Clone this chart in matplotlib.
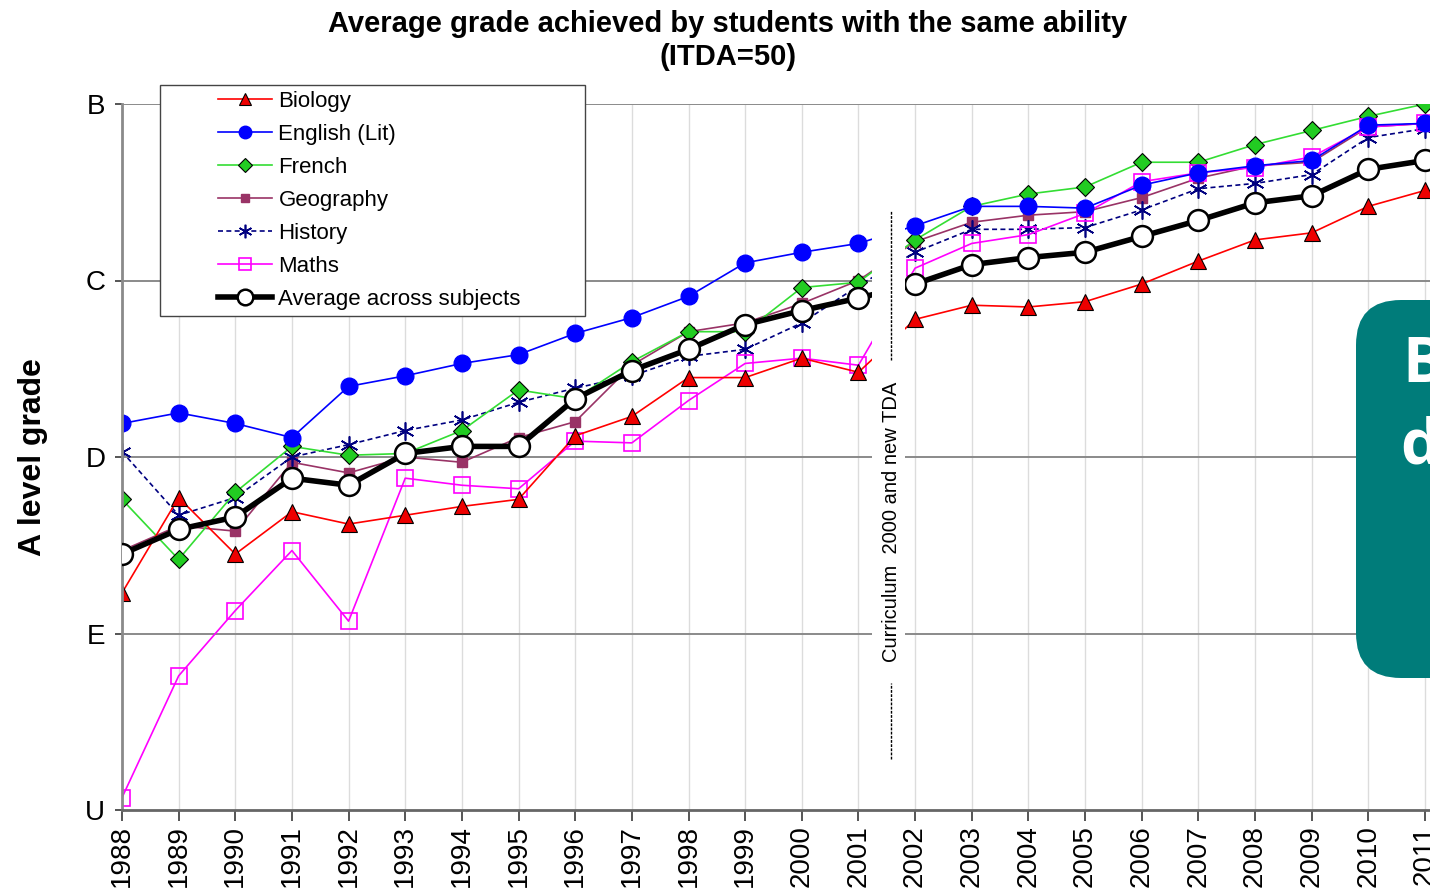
import matplotlib
matplotlib.use("Agg")
import matplotlib.pyplot as plt
import numpy as np
from matplotlib.patches import Rectangle, FancyBboxPatch

plt.rcParams['font.family'] = ['Liberation Sans', 'DejaVu Sans']

# grades: U=0, E=1, D=2, C=3, B=4
years = list(range(1988, 2012))
grade_labels = ['U', 'E', 'D', 'C', 'B']

biology = [1.23, 1.77, 1.45, 1.69, 1.62, 1.67, 1.72, 1.76, 2.12, 2.23, 2.45, 2.45,
           2.56, 2.48, 2.78, 2.86, 2.85, 2.88, 2.98, 3.11, 3.23, 3.27, 3.42, 3.51]
english = [2.19, 2.25, 2.19, 2.11, 2.40, 2.46, 2.53, 2.58, 2.70, 2.79, 2.91, 3.10,
           3.16, 3.21, 3.31, 3.42, 3.42, 3.41, 3.54, 3.61, 3.65, 3.68, 3.88, 3.89]
french = [1.76, 1.42, 1.80, 2.06, 2.01, 2.02, 2.15, 2.38, 2.33, 2.54, 2.71, 2.71,
          2.96, 2.99, 3.23, 3.42, 3.49, 3.53, 3.67, 3.67, 3.77, 3.85, 3.93, 4.00]
geography = [1.47, 1.61, 1.58, 1.97, 1.91, 2.00, 1.97, 2.11, 2.20, 2.52, 2.71, 2.76,
             2.87, 3.00, 3.22, 3.33, 3.37, 3.39, 3.47, 3.58, 3.65, 3.67, 3.87, 3.89]
history = [2.03, 1.67, 1.77, 2.00, 2.07, 2.15, 2.21, 2.31, 2.39, 2.46, 2.57, 2.61,
           2.76, 2.97, 3.16, 3.29, 3.29, 3.30, 3.40, 3.52, 3.55, 3.60, 3.81, 3.86]
maths = [0.07, 0.76, 1.13, 1.47, 1.07, 1.88, 1.84, 1.82, 2.09, 2.08, 2.32, 2.53,
         2.56, 2.52, 3.07, 3.21, 3.26, 3.38, 3.56, 3.61, 3.64, 3.70, 3.87, 3.89]
average = [1.45, 1.59, 1.66, 1.88, 1.84, 2.02, 2.06, 2.06, 2.33, 2.49, 2.61, 2.75,
           2.83, 2.90, 2.98, 3.09, 3.13, 3.16, 3.25, 3.34, 3.44, 3.48, 3.63, 3.68]

fig = plt.figure(figsize=(14.3, 8.92), dpi=100)
ax = fig.add_axes([122 / 1430, 82 / 892, 1308 / 1430, 706 / 892])

# grid
for yr in years:
    ax.plot([yr, yr], [0, 4], color='#dcdcdc', lw=1, zorder=0.5)
for g in [1, 2, 3, 4]:
    ax.axhline(g, color='#8a8a8a', lw=1.4, zorder=0.6)

lw = 1.2
ax.plot(years, geography, color='#993366', lw=lw, marker='s', ms=7,
        mfc='#993366', mec='#993366', label='Geography', zorder=2)
ax.plot(years, history, color='#000080', lw=lw, ls=(0, (3, 2)), marker=(6, 2, 0),
        ms=13, mec='#000080', mew=1.2, label='History', zorder=2.1)
ax.plot(years, french, color='#33dd33', lw=lw, marker='D', ms=9,
        mfc='#22cc22', mec='black', mew=0.8, label='French', zorder=2.2)
ax.plot(years, maths, color='#ff00ff', lw=lw, marker='s', ms=12,
        mfc='none', mec='#ff00ff', mew=1.2, label='Maths', zorder=2.3)
ax.plot(years, biology, color='#ff0000', lw=lw, marker='^', ms=12,
        mfc='#ee0000', mec='black', mew=0.8, label='Biology', zorder=2.4)
ax.plot(years, english, color='#0000ff', lw=lw, marker='o', ms=12,
        mfc='#0000ff', mec='#0000ff', label='English (Lit)', zorder=2.5)
ax.plot(years, average, color='black', lw=4, marker='o', ms=15,
        mfc='white', mec='black', mew=1.8, label='Average across subjects', zorder=3)

ax.set_xlim(1988, 1988 + 1308 / 56.65)
ax.set_ylim(0, 4)
ax.set_yticks(range(5))
ax.set_yticklabels(grade_labels)
ax.set_xticks(years)
ax.set_xticklabels([str(y) for y in years], rotation=90)
ax.tick_params(axis='y', labelsize=20, length=5, width=1.4, color='#555555', pad=7)
ax.tick_params(axis='x', labelsize=20, length=8, width=1.4, color='#555555', pad=3)
for s in ['top', 'right']:
    ax.spines[s].set_visible(False)
ax.spines['left'].set_color('#8a8a8a')
ax.spines['left'].set_linewidth(2)
ax.spines['bottom'].set_color('#666666')
ax.spines['bottom'].set_linewidth(2)

ax.set_ylabel('A level grade', fontsize=23, fontweight='bold', labelpad=27)

# break between 2001 and 2002
ax.add_patch(Rectangle((2001.24, 0.04), 0.58, 3.9, facecolor='white',
                       edgecolor='none', zorder=4))
ax.plot([2001.57, 2001.57], [2.55, 3.40], color='black', lw=1, ls=(0, (2, 1)), zorder=5)
ax.plot([2001.57, 2001.57], [0.29, 0.72], color='black', lw=1, ls=(0, (2, 1)), zorder=5)
ax.text(2001.58, 1.63, 'Curriculum  2000 and new TDA', rotation=90, fontsize=14.5,
        ha='center', va='center', zorder=5)

# legend
ax.add_patch(Rectangle((0.0291, 0.6997), 0.325, 0.327, transform=ax.transAxes,
                       facecolor='white', edgecolor='#444444', lw=1, clip_on=False, zorder=4.5))
order = ['Biology', 'English (Lit)', 'French', 'Geography', 'History', 'Maths',
         'Average across subjects']
handles, labels = ax.get_legend_handles_labels()
hmap = dict(zip(labels, handles))
leg = ax.legend([hmap[k] for k in order], order, loc='upper left',
                bbox_to_anchor=(0.0734, 1.019), frameon=False, fontsize=16,
                handlelength=2.45, handletextpad=0.27, labelspacing=0.54,
                borderpad=0, borderaxespad=0, markerscale=0.75)
leg.set_zorder(6)

fig.text(0.509, 1 - 32 / 892, 'Average grade achieved by students with the same ability',
         ha='center', va='baseline', fontsize=21, fontweight='bold')
fig.text(0.509, 1 - 65 / 892, '(ITDA=50)',
         ha='center', va='baseline', fontsize=21, fontweight='bold')

# teal overlay box
box = FancyBboxPatch((13.56, 2.14), 1.2, 3.78, boxstyle='round,pad=0,rounding_size=0.45',
                     transform=fig.dpi_scale_trans, facecolor='#007c7a', edgecolor='none',
                     zorder=10)
fig.add_artist(box)
fig.text(14.02, 5.10, 'B', transform=fig.dpi_scale_trans, color='white', fontsize=45,
         fontweight='bold', family=['Open Sans', 'DejaVu Sans'], va='baseline', zorder=11)
fig.text(14.00, 4.29, 'd', transform=fig.dpi_scale_trans, color='white', fontsize=45,
         fontweight='bold', family=['Open Sans', 'DejaVu Sans'], va='baseline', zorder=11)

fig.savefig('out.png', dpi=100)
